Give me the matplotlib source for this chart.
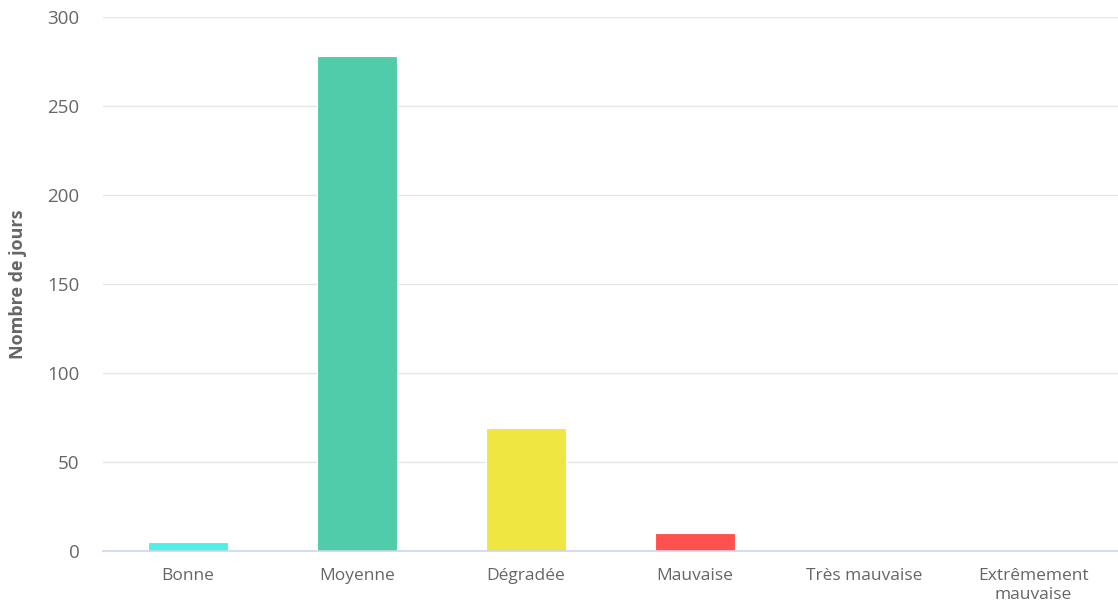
import matplotlib
matplotlib.use("Agg")
import matplotlib.pyplot as plt

plt.rcParams['font.family'] = ['Open Sans', 'DejaVu Sans']

categories = ['Bonne', 'Moyenne', 'Dégradée', 'Mauvaise', 'Très mauvaise', 'Extrêmement\nmauvaise']
jours = [5, 278, 69, 10, 0, 0]
couleurs = ['#50f0e6', '#50ccaa', '#f0e641', '#ff5050', '#960032', '#7d2181']
yticks = [0, 50, 100, 150, 200, 250, 300]

fig = plt.figure(figsize=(11.18, 6.05), dpi=100)
ax = fig.add_axes([103/1118, 54/605, 1 - 103/1118, 534/605])

x = range(len(categories))
ax.bar(x, jours, width=0.473, color=couleurs, edgecolor='white', linewidth=0.8, zorder=3)

ax.set_xlim(-0.5, len(categories) - 0.5)
ax.set_ylim(0, 300)
ax.set_yticks(yticks)
ax.set_xticks(list(x))
ax.set_xticklabels(categories, color='#666666', fontsize=12.5, linespacing=1.3, va='top')
ax.tick_params(axis='y', length=0, pad=17, labelsize=13.5, labelcolor='#666666')
ax.tick_params(axis='x', length=0, pad=12)

ax.grid(axis='y', color='#e6e6e6', linewidth=1, zorder=0)
for s in ['top', 'right', 'left']:
    ax.spines[s].set_visible(False)
ax.spines['bottom'].set_color('#ccd6eb')
ax.spines['bottom'].set_linewidth(1.2)
ax.spines['bottom'].set_zorder(4)

ax.set_ylabel('Nombre de jours', color='#666666', fontsize=13, fontweight='bold', va='center')
ax.yaxis.set_label_coords(-85/1015, 0.5)

fig.savefig('out.png', dpi=100)
